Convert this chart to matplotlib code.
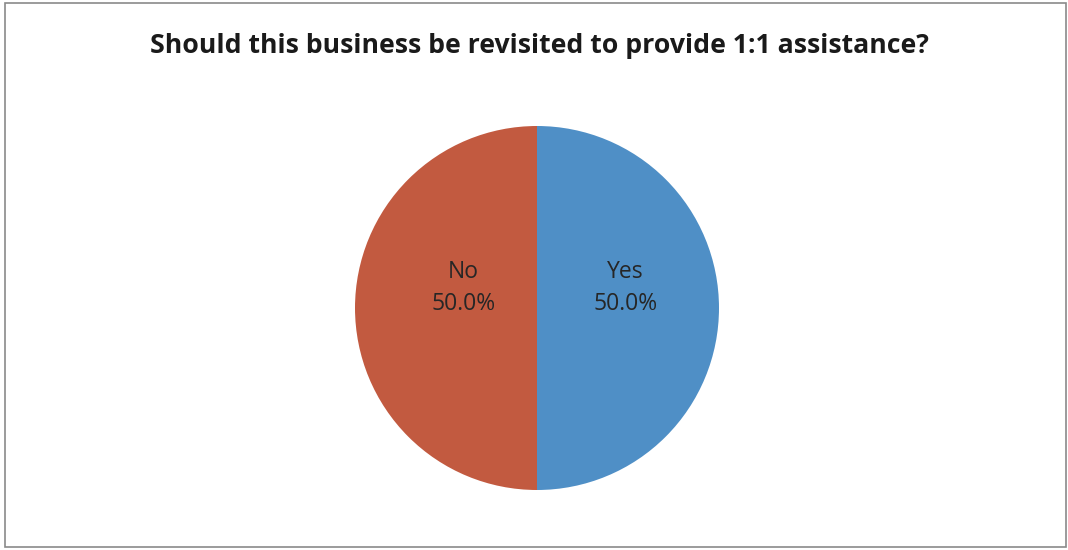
import numpy as np
import matplotlib
matplotlib.use("Agg")
from matplotlib import pyplot as plt
from matplotlib.patches import Rectangle

# Survey answers
labels = ["Yes", "No"]
shares = [50.0, 50.0]
colors = ["#4f8fc6", "#c25a40"]

title = "Should this business be revisited to provide 1:1 assistance?"

fig = plt.figure(figsize=(10.68, 5.5), dpi=100)

# Chart frame
fig.patches.append(Rectangle((5/1068, 3/550), 1061/1068, 544/550,
                             transform=fig.transFigure, fill=False,
                             edgecolor="#8a8a8a", linewidth=1.2))

fig.text(0.505, 1 - 46/550, title, ha="center", va="center",
         fontsize=19.2, fontweight="bold", family="Open Sans", color="#1a1a1a")

# Pie axes sized to the circle
r = 182
cx, cy = 537, 308
ax = fig.add_axes([(cx - r)/1068, 1 - (cy + r)/550, 2*r/1068, 2*r/550])
wedges, _ = ax.pie(shares, colors=colors, startangle=90, counterclock=False,
                   wedgeprops=dict(linewidth=0))
ax.set_aspect("auto")
ax.set_xlim(-1, 1)
ax.set_ylim(-1, 1)

# Data labels: category name and percentage inside each wedge
total = sum(shares)
for w, lab, v in zip(wedges, labels, shares):
    mid = np.deg2rad((w.theta1 + w.theta2) / 2)
    x, y = 0.445*np.cos(mid) + 0.04, 0.445*np.sin(mid) + 0.11
    ax.text(x, y, f"{lab}\n{v/total*100:.1f}%", ha="center", va="center",
            fontsize=16.5, family="Open Sans", color="#262626", linespacing=1.45)

fig.savefig("out.png", dpi=100)
